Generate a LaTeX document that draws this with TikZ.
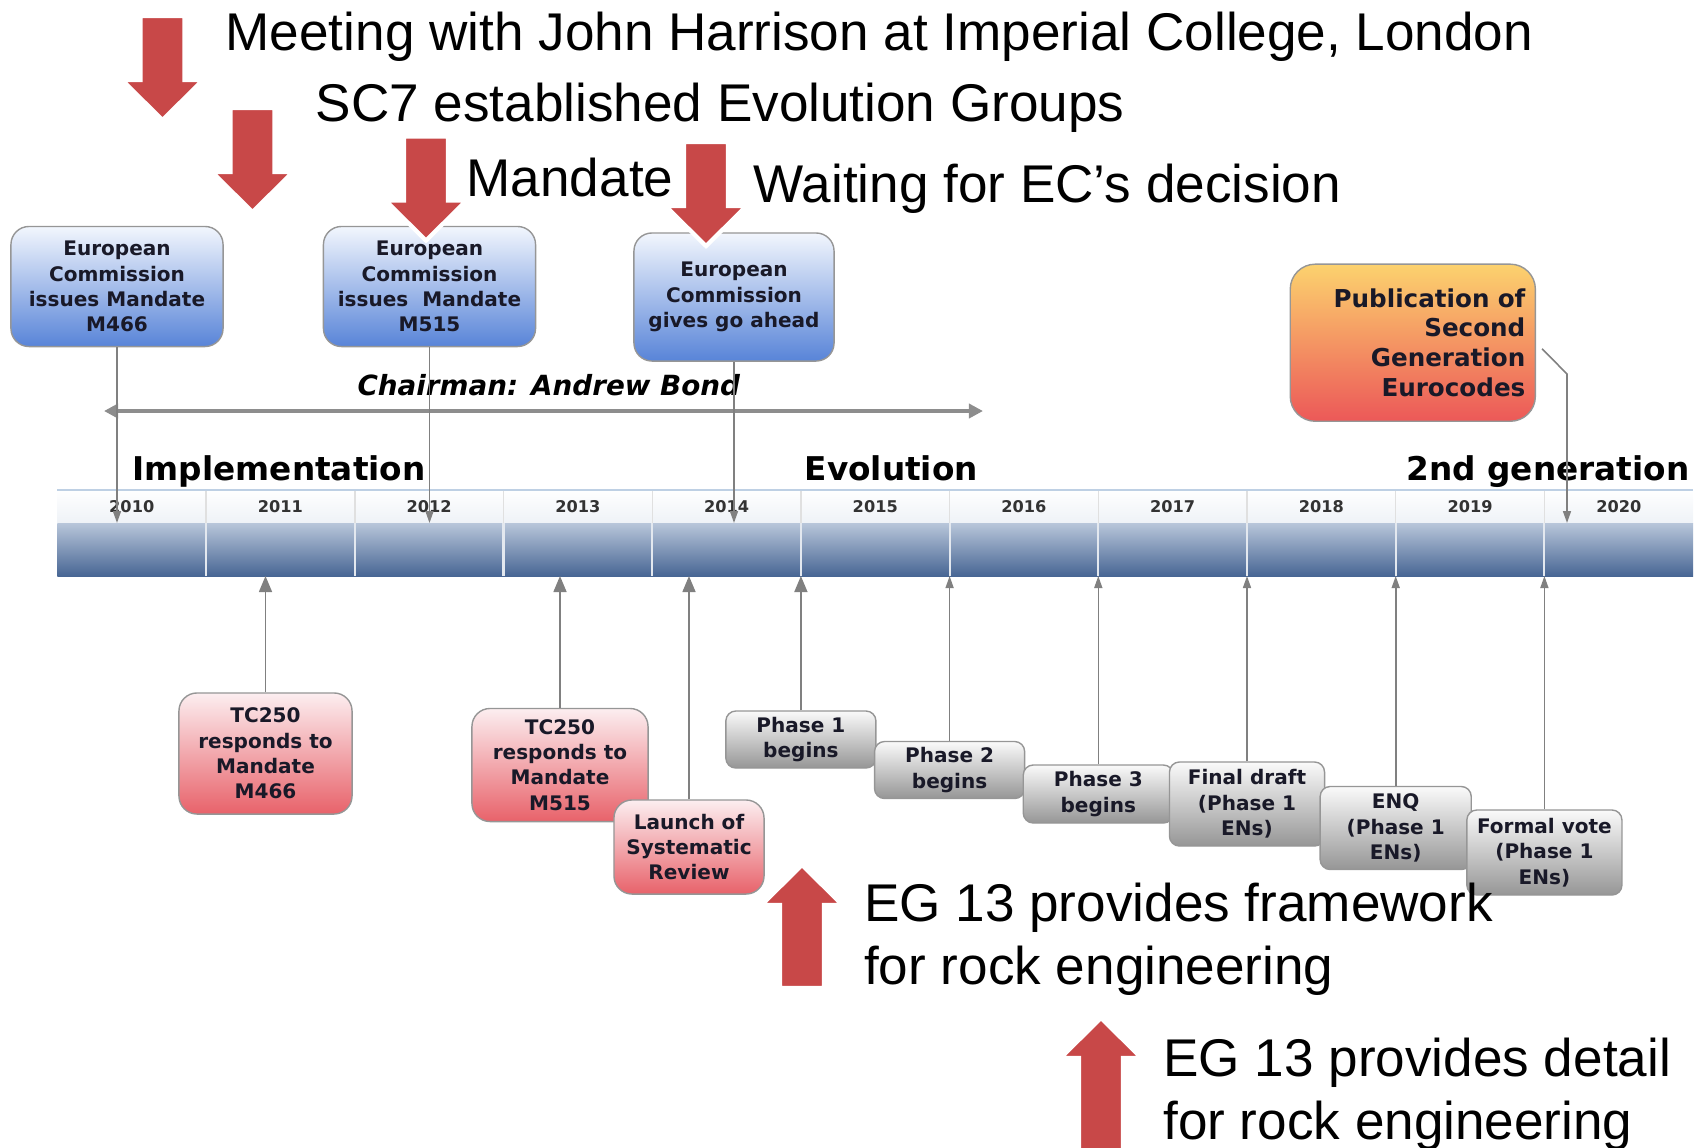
\documentclass[tikz,border=0pt]{standalone}
\usepackage{fontspec}
\setmainfont{Liberation Sans}
\newfontfamily\boxfont{DejaVu Sans}
\usetikzlibrary{arrows.meta}

\definecolor{arrowred}{RGB}{200,72,72}
\definecolor{bluetop}{RGB}{242,246,253}
\definecolor{bluebot}{RGB}{88,132,216}
\definecolor{redtop}{RGB}{252,238,240}
\definecolor{redbot}{RGB}{232,98,106}
\definecolor{greytop}{RGB}{250,250,250}
\definecolor{greybot}{RGB}{150,150,150}
\definecolor{orangetop}{RGB}{252,210,110}
\definecolor{orangebot}{RGB}{236,88,88}
\definecolor{boxedge}{RGB}{150,150,150}
\definecolor{boxink}{RGB}{25,25,40}
\definecolor{connline}{RGB}{128,128,128}
\definecolor{barlight}{RGB}{184,198,218}
\definecolor{bardark}{RGB}{72,102,148}
\definecolor{headbot}{RGB}{238,242,247}
\definecolor{headline}{RGB}{190,208,228}

\begin{document}
\begin{tikzpicture}[x=0.01cm, y=-0.01cm,
	box/.style={draw=boxedge, line width=0.4pt, rounded corners=0.18cm, align=center, inner sep=1pt, text=boxink,
		font=\boxfont\bfseries\fontsize{5.7}{7.2}\selectfont},
	bluebox/.style={box, top color=bluetop, bottom color=bluebot, minimum width=2.12cm, minimum height=1.2cm},
	redbox/.style={box, top color=redtop, bottom color=redbot},
	greybox/.style={box, top color=greytop, bottom color=greybot, rounded corners=0.1cm, minimum width=1.5cm},
	pubbox/.style={box, top color=orangetop, bottom color=orangebot, align=right, text width=2.25cm, inner xsep=0.1cm,
		minimum height=1.57cm, rounded corners=0.25cm, font=\boxfont\bfseries\fontsize{7}{8.5}\selectfont},
	conn/.style={draw=connline, line width=0.45pt, -{Triangle[width=0.08cm,length=0.12cm]}},
	bigconn/.style={conn, -{Triangle[width=0.13cm,length=0.16cm]}},
	yearlabel/.style={font=\boxfont\bfseries\fontsize{4.6}{5}\selectfont, text=black!80},
	phase/.style={font=\boxfont\bfseries\fontsize{9.3}{11}\selectfont, inner sep=0pt},
	bigtext/.style={font=\fontsize{15.1}{17.8}\selectfont, anchor=base west, align=left, inner sep=0pt},
	blockarrow/.style={fill=arrowred, draw=white, line width=1.2pt}]

	\useasboundingbox (0,0) rectangle (1699,1147);

	% timeline bar
	\shade[top color=white, bottom color=headbot] (57.4,490) rectangle (1693,523);
	\draw[headline, line width=0.5pt] (57.4,490) -- (1693,490);
	\shade[top color=barlight, bottom color=bardark] (57.4,523) rectangle (1693,576);
	\foreach \i in {1,...,10} {
		\draw[black!12, line width=0.4pt] (57.4+\i*148.7,491) -- (57.4+\i*148.7,523);
		\draw[white!85!bardark, line width=0.6pt] (57.4+\i*148.7,523) -- (57.4+\i*148.7,576);
	}
	\foreach \yr [count=\i from 0] in {2010,...,2020}
		\node[yearlabel] (y\yr) at (57.4+\i*148.7+74.35,507) {\yr};
	\coordinate (bartop) at (0,523);
	\coordinate (barbot) at (0,576);

	\node[phase, anchor=base west] (impl) at (132,480) {Implementation};
	\node[phase, anchor=base west] (evol) at (804,480) {Evolution};
	\node[phase, anchor=base east] (second) at (1690,480) {2nd generation};

	% chairman
	\coordinate (chairL) at (104,411);
	\coordinate (chairR) at (983,411);
	\draw[connline!90, line width=1pt, {Triangle[width=0.14cm,length=0.14cm]}-{Triangle[width=0.14cm,length=0.14cm]}] (chairL) -- (chairR);
	\node[font=\boxfont\bfseries\itshape\fontsize{7.9}{9}\selectfont, anchor=base, inner sep=0pt] (chair) at (548.8,395.7) {Chairman: Andrew Bond};

	% upper boxes
	\node[bluebox] (b466) at (117,286.5) {European\\Commission\\issues Mandate\\M466};
	\node[bluebox] (b515) at (429.5,286.5) {European\\Commission\\issues\ \ Mandate\\M515};
	\node[bluebox, minimum width=2cm, minimum height=1.28cm] (bgo) at (734,297) {European\\Commission\\gives go ahead};
	\node[pubbox] (bpub) at (1412.8,342.7) {Publication of\\Second\\Generation\\Eurocodes};

	\draw[conn] (b466.south) -- (b466.south |- bartop);
	\draw[conn] (b515.south) -- (b515.south |- bartop);
	\draw[conn] (bgo.south) -- (bgo.south |- bartop);
	\coordinate (pubin) at (1567,374);
	\draw[conn] ([shift={(6,6)}]bpub.east) -- (pubin) -- (pubin |- bartop);

	% lower boxes
	\node[redbox, minimum width=1.73cm, minimum height=1.21cm] (r466) at (265.5,753.5) {TC250\\responds to\\Mandate\\M466};
	\node[redbox, minimum width=1.76cm, minimum height=1.13cm] (r515) at (560,765) {TC250\\responds to\\Mandate\\M515};
	\node[redbox, minimum width=1.5cm, minimum height=0.94cm] (rsys) at (689,847) {Launch of\\Systematic\\Review};
	\node[greybox, minimum height=0.57cm] (ph1) at (800.9,739.5) {Phase 1\\begins};
	\node[greybox, minimum height=0.57cm] (ph2) at (949.6,770) {Phase 2\\begins};
	\node[greybox, minimum height=0.58cm] (ph3) at (1098.3,794) {Phase 3\\begins};
	\node[greybox, minimum width=1.55cm, minimum height=0.84cm] (fdraft) at (1247,804) {Final draft\\(Phase 1\\ENs)};
	\node[greybox, minimum width=1.51cm, minimum height=0.83cm] (enq) at (1395.7,828) {ENQ\\(Phase 1\\ENs)};
	\node[greybox, minimum width=1.55cm, minimum height=0.85cm] (fvote) at (1544.4,852.5) {Formal vote\\(Phase 1\\ENs)};

	\draw[bigconn] (r466.north) -- (r466.north |- barbot);
	\draw[bigconn] (r515.north) -- (r515.north |- barbot);
	\draw[bigconn] (rsys.north) -- (rsys.north |- barbot);
	\draw[bigconn] (ph1.north) -- (ph1.north |- barbot);
	\draw[conn] (ph2.north) -- (ph2.north |- barbot);
	\draw[conn] (ph3.north) -- (ph3.north |- barbot);
	\draw[conn] (fdraft.north) -- (fdraft.north |- barbot);
	\draw[conn] (enq.north) -- (enq.north |- barbot);
	\draw[conn] (fvote.north) -- (fvote.north |- barbot);

	% events
	\node[bigtext] (meeting) at (225,50) {Meeting with John Harrison at Imperial College, London};
	\node[bigtext] (sc7) at (315,121) {SC7 established Evolution Groups};
	\node[bigtext] (mandate) at (466,196.7) {Mandate};
	\node[bigtext] (waiting) at (753,202) {Waiting for EC’s decision};
	\node[bigtext] (eg13a) at (863.5,984) {EG 13 provides framework\\for rock engineering};
	\node[bigtext] (eg13b) at (1162.6,1139) {EG 13 provides detail\\for rock engineering};

	\foreach \ax/\at in {162.5/16, 252.5/108, 426/136.5, 706/142}
		\draw[blockarrow] (\ax-22,\at) -- (\ax+22,\at) -- (\ax+22,\at+64) -- (\ax+40.5,\at+64)
			-- (\ax,\at+104) -- (\ax-40.5,\at+64) -- (\ax-22,\at+64) -- cycle;
	\foreach \ax/\ap/\ab in {802/865/988, 1101/1018/1160}
		\draw[blockarrow] (\ax,\ap) -- (\ax+40.5,\ap+40) -- (\ax+22,\ap+40) -- (\ax+22,\ab)
			-- (\ax-22,\ab) -- (\ax-22,\ap+40) -- (\ax-40.5,\ap+40) -- cycle;

\end{tikzpicture}
\end{document}
